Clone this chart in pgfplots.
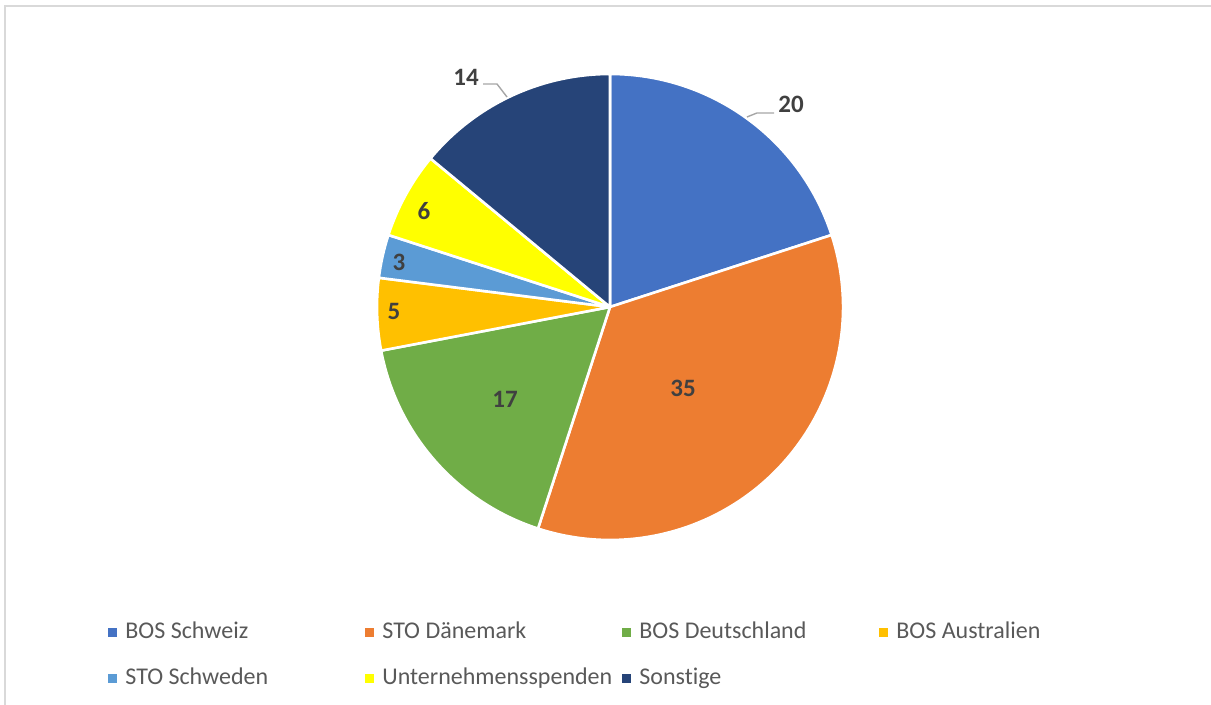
\documentclass[border=0pt]{standalone}
\usepackage{pgfplots}
\usepackage{pgfplotstable}
\pgfplotsset{compat=1.18}
\usepackage{fontspec}
\setmainfont{Carlito}[Ligatures=NoCommon]

\definecolor{c1}{HTML}{4472C4}
\definecolor{c2}{HTML}{ED7D31}
\definecolor{c3}{HTML}{70AD47}
\definecolor{c4}{HTML}{FFC000}
\definecolor{c5}{HTML}{5B9BD5}
\definecolor{c6}{HTML}{FFFF00}
\definecolor{c7}{HTML}{264478}
\definecolor{txt}{HTML}{595959}
\definecolor{lbl}{HTML}{404040}
\definecolor{frame}{HTML}{D9D9D9}

% slices clockwise from 12 o'clock
\pgfplotstableread{
name value color
{BOS Schweiz} 20 c1
{STO Dänemark} 35 c2
{BOS Deutschland} 17 c3
{BOS Australien} 5 c4
{STO Schweden} 3 c5
{Unternehmensspenden} 6 c6
{Sonstige} 14 c7
}\piedata

\begin{document}
\begin{tikzpicture}
\begin{axis}[
    width=605.5pt, height=352.5pt,
    scale only axis,
    xmin=0, xmax=1211, ymin=0, ymax=705,
    hide axis, clip=false,
    legend columns=4,
    legend image code/.code={\fill[#1] (0pt,-2.25pt) rectangle (4.5pt,2.25pt);},
    legend style={
        at={(108/1211,83/705)}, anchor=north west,
        draw=none, fill=none, inner sep=0pt,
        font=\fontsize{12}{14}\selectfont, text=txt,
        nodes={inner sep=0pt, text height=8pt, text depth=2.5pt},
        row sep=12.5pt,
        /tikz/every odd column/.append style={column sep=4pt},
    },
  ]
  % frame
  \draw[frame, line width=1pt] (axis cs:5,0) -- (axis cs:5,699) -- (axis cs:1211,699);

  \pgfplotstablegetrowsof{\piedata}
  \pgfmathtruncatemacro\nrows{\pgfplotsretval-1}
  \def\cum{0}
  \pgfplotsforeachungrouped \i in {0,...,\nrows}{
    \pgfplotstablegetelem{\i}{value}\of\piedata \let\v\pgfplotsretval
    \pgfplotstablegetelem{\i}{color}\of\piedata \let\c\pgfplotsretval
    \pgfmathsetmacro\a{90-3.6*\cum}
    \pgfmathsetmacro\b{90-3.6*(\cum+\v)}
    \edef\cmd{\noexpand\fill[\c, draw=white, line width=1.3pt, line join=round]
      (axis cs:610,398) -- ++(\a:116.5pt) arc[start angle=\a, end angle=\b, radius=116.5pt] -- cycle;}
    \cmd
    \pgfmathsetmacro\cum{\cum+\v}
  }

  % leader lines
  \draw[gray!70, line width=0.7pt] (axis cs:747,588) -- (axis cs:757,592) -- (axis cs:774,592);
  \draw[gray!70, line width=0.7pt] (axis cs:483,621) -- (axis cs:497,621) -- (axis cs:507,608);

  % data labels
  \begin{scope}[every node/.style={font=\fontsize{12.5}{14}\selectfont\bfseries, text=lbl, inner sep=0pt}]
    \node at (axis cs:791,601) {20};
    \node at (axis cs:683,317) {35};
    \node at (axis cs:505,306) {17};
    \node at (axis cs:394,394) {5};
    \node at (axis cs:399,443) {3};
    \node at (axis cs:424,494) {6};
    \node at (axis cs:466,628) {14};
  \end{scope}

  \addlegendimage{fill=c1, draw=none}\addlegendentry{\makebox[120pt][l]{BOS Schweiz}}
  \addlegendimage{fill=c2, draw=none}\addlegendentry{\makebox[120pt][l]{STO Dänemark}}
  \addlegendimage{fill=c3, draw=none}\addlegendentry{\makebox[120pt][l]{BOS Deutschland}}
  \addlegendimage{fill=c4, draw=none}\addlegendentry{\makebox[120pt][l]{BOS Australien}}
  \addlegendimage{fill=c5, draw=none}\addlegendentry{\makebox[120pt][l]{STO Schweden}}
  \addlegendimage{fill=c6, draw=none}\addlegendentry{\makebox[120pt][l]{Unternehmensspenden}}
  \addlegendimage{fill=c7, draw=none}\addlegendentry{\makebox[120pt][l]{Sonstige}}
\end{axis}
\pgfresetboundingbox
\path (current axis.south west) rectangle (current axis.north east);
\end{tikzpicture}
\end{document}
